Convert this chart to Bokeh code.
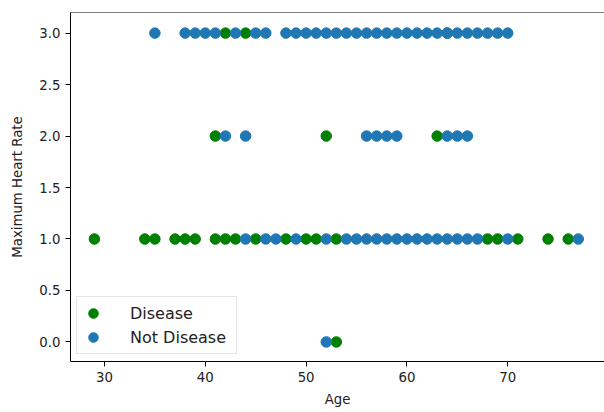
from bokeh.plotting import figure
from bokeh.models import Range1d, FixedTicker, Legend, LegendItem, Span, CustomJSTickFormatter
from bokeh.embed import file_html
from bokeh.resources import INLINE

# Disease (green)
disease_age = [42, 44, 64,
               41, 52, 63,
               29, 34, 35, 37, 38, 39, 41, 42, 43, 45, 48, 50, 51, 53, 68, 69, 71, 74, 76,
               53]
disease_val = [3, 3, 3,
               2, 2, 2,
               1, 1, 1, 1, 1, 1, 1, 1, 1, 1, 1, 1, 1, 1, 1, 1, 1, 1, 1,
               0]

# Not Disease (blue)
healthy_age = [35, 38, 39, 40, 41, 43, 45, 46, 48, 49, 50, 51, 52, 53, 54, 55, 56, 57, 58, 59, 60, 61, 62, 63,
               64, 65, 66, 67, 68, 69, 70,
               42, 44, 56, 57, 58, 59, 64, 65, 66,
               44, 46, 47, 49, 52, 54, 55, 56, 57, 58, 59, 60, 61, 62, 63, 64, 65, 66, 67, 70, 77,
               52]
healthy_val = [3, 3, 3, 3, 3, 3, 3, 3, 3, 3, 3, 3, 3, 3, 3, 3, 3, 3, 3, 3, 3, 3, 3, 3,
               3, 3, 3, 3, 3, 3, 3,
               2, 2, 2, 2, 2, 2, 2, 2, 2,
               1, 1, 1, 1, 1, 1, 1, 1, 1, 1, 1, 1, 1, 1, 1, 1, 1, 1, 1, 1, 1,
               0]

x_ticks = [30, 40, 50, 60, 70]
y_ticks = [0.0, 0.5, 1.0, 1.5, 2.0, 2.5, 3.0]
series_labels = ["Disease", "Not Disease"]

GREEN = "#008000"
BLUE = "#1f77b4"
FONT = "DejaVu Sans"

p = figure(frame_width=534, frame_height=349,
           x_range=Range1d(26.63, 79.6), y_range=Range1d(-0.19, 3.2),
           output_backend="svg", toolbar_location=None,
           min_border_left=70, min_border_right=0, min_border_top=12, min_border_bottom=51)
p.outline_line_color = None
p.grid.visible = False
p.background_fill_color = "white"
p.border_fill_color = "white"

r1 = p.scatter(disease_age, disease_val, size=10.5, fill_color=GREEN, line_color=GREEN)
r2 = p.scatter(healthy_age, healthy_val, size=10.5, fill_color=BLUE, line_color=BLUE)

p.add_layout(Span(location=3.2, dimension="width", line_color="black", line_width=1))

for ax in (p.xaxis[0], p.yaxis[0]):
    ax.axis_line_color = "black"
    ax.axis_line_width = 1
    ax.major_tick_line_color = "black"
    ax.major_tick_out = 5
    ax.major_tick_in = 0
    ax.minor_tick_line_color = None
    ax.major_label_text_font = FONT
    ax.major_label_text_font_size = "13.3px"
    ax.major_label_text_color = "#222222"
    ax.axis_label_text_font = FONT
    ax.axis_label_text_font_size = "13.3px"
    ax.axis_label_text_font_style = "normal"
    ax.axis_label_text_color = "#222222"

p.xaxis[0].major_label_standoff = 5
p.yaxis[0].major_label_standoff = 5
p.xaxis[0].ticker = FixedTicker(ticks=x_ticks)
p.yaxis[0].ticker = FixedTicker(ticks=y_ticks)
p.yaxis[0].formatter = CustomJSTickFormatter(code="return tick.toFixed(1);")
p.xaxis[0].axis_label = "Age"
p.yaxis[0].axis_label = "Maximum Heart Rate"
p.xaxis[0].axis_label_standoff = 7
p.yaxis[0].axis_label_standoff = 11

legend = Legend(items=[LegendItem(label=series_labels[0], renderers=[r1]),
                       LegendItem(label=series_labels[1], renderers=[r2])],
                location=(6, 7))
legend.label_text_font = FONT
legend.label_text_font_size = "16px"
legend.label_text_color = "#222222"
legend.glyph_width = 24
legend.glyph_height = 24
legend.label_height = 24
legend.label_width = 102
legend.spacing = 0
legend.padding = 4
legend.margin = 0
legend.label_standoff = 25
legend.border_line_color = "#cccccc"
legend.border_line_width = 1
legend.background_fill_color = "white"
legend.background_fill_alpha = 0.8
p.add_layout(legend)

open("out.html", "w").write(file_html(p, INLINE))
